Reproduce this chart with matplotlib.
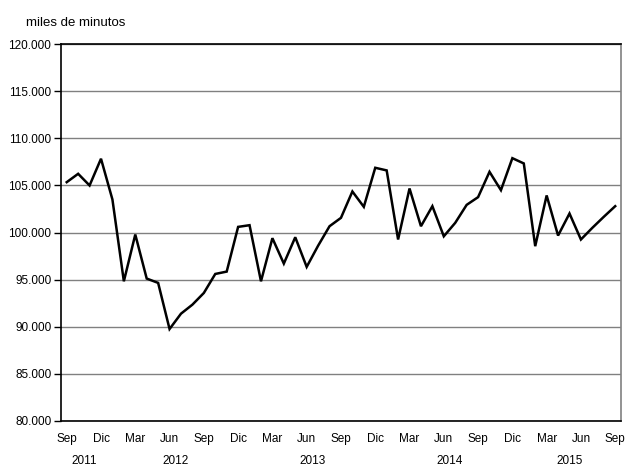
import numpy as np
import matplotlib.pyplot as plt
from matplotlib.ticker import FuncFormatter

# --- datos: miles de minutos, mensual Sep 2011 - Sep 2015 ---
meses = ['Sep', 'Oct', 'Nov', 'Dic', 'Ene', 'Feb', 'Mar', 'Abr', 'May', 'Jun', 'Jul', 'Ago']
anio_inicio = 2011
valores = [
    105.35, 106.24, 105.0, 107.84,                                  # 2011
    103.51, 94.82, 99.79, 95.11, 94.65, 89.75, 91.38, 92.34,        # 2012
    93.58, 95.6, 95.85, 100.6,
    100.78, 94.82, 99.4, 96.7, 99.5, 96.35, 98.6, 100.67,           # 2013
    101.56, 104.36, 102.73, 106.88,
    106.6, 99.26, 104.68, 100.67, 102.8, 99.6, 101.03, 102.94,      # 2014
    103.76, 106.45, 104.5, 107.9,
    107.34, 98.55, 103.94, 99.68, 102.02, 99.26, 100.5, 101.67,     # 2015
    102.8,
]
valores = np.array(valores) * 1000
y_ticks = [80000, 85000, 90000, 95000, 100000, 105000, 110000, 115000, 120000]

n = len(valores)
x = np.arange(n)
etiquetas = [meses[i % 12] for i in x]
# año de cada punto (Sep 2011 = índice 0)
anios = [anio_inicio + (i + 8) // 12 for i in x]

plt.rcParams['font.family'] = ['Liberation Sans', 'DejaVu Sans']

fig = plt.figure(figsize=(6.27, 4.66), dpi=100)
ax = fig.add_axes([0.0973, 0.097, 0.893, 0.808])

ax.plot(x, valores, color='black', lw=1.8, solid_joinstyle='miter', zorder=3)

ax.set_xlim(-0.5, n - 0.5)
ax.set_ylim(80000, 120000)
ax.set_yticks(y_ticks)
ax.yaxis.set_major_formatter(FuncFormatter(lambda v, p: f'{int(v):,}'.replace(',', '.')))
ax.grid(axis='y', color='#808080', lw=1.0)
ax.set_axisbelow(True)

ticks_x = x[::3]
ax.set_xticks(ticks_x)
ax.set_xticklabels([etiquetas[i] for i in ticks_x])
ax.tick_params(axis='x', length=0, pad=9, labelsize=8.5)
ax.tick_params(axis='y', length=5, width=1, direction='out', pad=2, labelsize=8.5)

for lado in ['left', 'bottom', 'top']:
    ax.spines[lado].set_color('black')
    ax.spines[lado].set_linewidth(1.2)
ax.spines['right'].set_color('#808080')
ax.spines['right'].set_linewidth(1.2)

# etiquetas de año, centradas en los meses de cada año
for a in sorted(set(anios)):
    idx = [i for i in x if anios[i] == a]
    centro = (idx[0] + idx[-1]) / 2
    ax.text(centro, -0.108, str(a), transform=ax.get_xaxis_transform(),
            ha='center', va='center', fontsize=8.5)

fig.text(26 / 627, 1 - 23 / 466, 'miles de minutos', ha='left', va='center', fontsize=9.5)

fig.savefig('out.png', dpi=100)
